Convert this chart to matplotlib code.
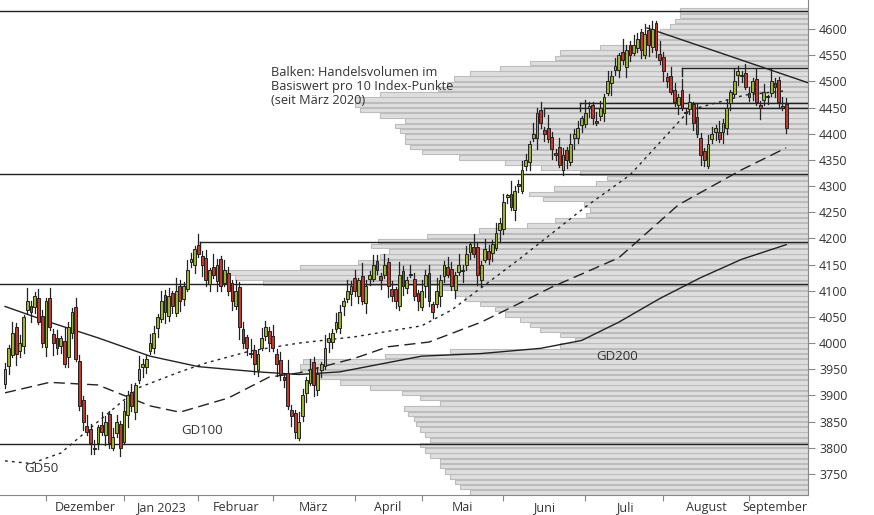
import numpy as np
import matplotlib
matplotlib.use("Agg")
import matplotlib.pyplot as plt

plt.rcParams['font.family'] = ['Open Sans', 'DejaVu Sans']

# ---- data ----
closes = [
 3950,3990,4020,3980,4000,4050,4080,4060,4090,4040,4000,
 4080,4030,4000,3990,4010,3960,4030,4060,3970,3880,3850,3830,3810,3800,3840,3830,3850,3810,3820,3850,3800,
 3870,3900,3880,3920,3950,3960,3970,4000,4020,4050,4080,4060,4090,4070,4100,4080,4110,4140,4160,4180,
 4170,4150,4120,4140,4130,4150,4110,4140,4100,4080,4100,4030,4000,3990,3980,3960,3980,4010,4030,4000,
 3990,3960,3940,3930,3880,3860,3830,3850,3900,3930,3950,3920,3940,3960,3990,4010,4020,4040,4060,4080,4100,4110,
 4100,4120,4080,4110,4130,4150,4140,4120,4150,4110,4090,4080,4130,4110,4120,4130,4090,4080,
 4100,4130,4080,4060,4100,4120,4150,4130,4110,4130,4150,4140,4170,4190,4170,4130,4150,4180,4160,4190,4210,4230,
 4270,4280,4260,4290,4300,4330,4350,4380,4400,4440,4420,4400,4390,4370,4360,4340,4360,4350,4380,4400,4410,4430,
 4440,4450,4430,4420,4450,4470,4500,4510,4530,4550,4540,4560,4550,4570,4580,4560,4590,4570,4600,4560,4540,
 4520,4500,4480,4460,4470,4450,4440,4460,4420,4400,4360,4350,4380,4400,4410,4390,4420,4450,4480,4500,4520,4510,4490,
 4470,4500,4460,4450,4480,4470,4500,4490,4460,4450,4410,
]
open0 = 3930
open_gap = [-8, 6, -12, 10, 4, -6, 14, -10, 8, -4, 12]
wick_up = [12, 6, 20, 9, 15, 4, 25, 10, 7, 18]
wick_dn = [8, 16, 5, 22, 10, 13, 6, 19, 11, 4]

month_start_idx = [11, 32, 52, 72, 94, 112, 134, 156, 177, 200]
month_labels = ["Dezember", "Jan 2023", "Februar", "März", "April", "Mai", "Juni", "Juli", "August", "September"]

gd200_x = [0,12,25,39,52,68,79,90,101,112,128,144,155,165,176,187,198,210]
gd200_y = [4070,4040,4010,3975,3955,3945,3940,3945,3960,3975,3980,3990,4005,4040,4085,4125,4160,4188]
gd100_x = [0,12,25,39,47,60,71,79,94,103,114,128,138,147,165,181,198,210]
gd100_y = [3905,3925,3920,3880,3868,3895,3935,3943,3971,3993,4002,4040,4075,4107,4163,4264,4331,4373]
gd50_x = [0,7,15,25,36,47,54,66,79,94,112,120,138,156,168,184,199,210]
gd50_y = [3775,3770,3790,3850,3915,3945,3962,3985,4000,4012,4033,4063,4159,4260,4321,4445,4474,4482]

prof_levels = list(range(3710, 4640, 10))
prof_left_px = [470,460,455,450,445,440,440,430,425,420,430,425,420,416,414,408,404,440,420,402,
 370,340,317,300,300,303,385,450,560,575,560,540,530,520,505,495,480,465,455,440,
 263,235,205,300,358,380,389,371,378,427,479,527,555,586,590,584,543,529,554,596,
 607,580,541,505,459,422,410,405,405,400,395,405,380,360,355,355,380,438,447,454,
 470,500,530,555,560,600,640,650,660,670,675,680,680]

hlines_full = [4634, 4323, 4113, 3807]
hlines_partial = [(4193, 52.4), (4449, 145), (4459, 154.6), (4525, 182)]
trend_x = [172.6, 216]
trend_y = [4602, 4497]

# ---- figure ----
PX = 3.72
fig = plt.figure(figsize=(8.74, 5.15), dpi=100)
ax = fig.add_axes([0, 20/515, 808/874, 495/515])
xmin, xmax = -5/PX, 803/PX
ax.set_xlim(xmin, xmax)
ax.set_ylim(3709.8, 4655.4)

# volume profile
vol = [(808 - p) / PX for p in prof_left_px]
ax.barh([l + 5 for l in prof_levels], vol, left=[xmax - v for v in vol], height=8.6,
        color='#dedede', edgecolor='#bcbcbc', linewidth=0.8, zorder=1)

# horizontal lines
for h in hlines_full:
    ax.plot([xmin, xmax], [h, h], color='#222222', lw=1.0, zorder=3)
for h, x0 in hlines_partial:
    ax.plot([x0, xmax], [h, h], color='#222222', lw=1.0, zorder=3)
    ax.plot([x0, x0], [h, h - 15], color='#222222', lw=1.0, zorder=3)
ax.plot(trend_x, trend_y, color='#222222', lw=1.0, zorder=3)

# moving averages
ax.plot(gd200_x, gd200_y, color='#222222', lw=1.0, zorder=4)
ax.plot(gd100_x, gd100_y, color='#222222', lw=1.0, dashes=(8, 4), zorder=4)
ax.plot(gd50_x, gd50_y, color='#222222', lw=1.0, dashes=(2, 3), zorder=4)

# candles
prev = open0
for i, c in enumerate(closes):
    o = prev + open_gap[i % len(open_gap)]
    hi = max(o, c) + wick_up[i % len(wick_up)]
    lo = min(o, c) - wick_dn[i % len(wick_dn)]
    col = '#9bb52a' if c >= o else '#c0392b'
    ax.plot([i, i], [lo, hi], color='#222222', lw=0.9, zorder=5)
    body = max(abs(c - o), 2)
    ax.bar(i, body, bottom=min(o, c), width=0.75, color=col, edgecolor='#222222', linewidth=0.7, zorder=6)
    prev = c

# labels
ax.text(5.3, 3760, "GD50", fontsize=9.5, color='#333333', va='center', zorder=7)
ax.text(47.5, 3833, "GD100", fontsize=9.5, color='#333333', va='center', zorder=7)
ax.text(159, 3975, "GD200", fontsize=9.5, color='#333333', va='center', zorder=7)
ax.text(71.5, 4530, "Balken: Handelsvolumen im\nBasiswert pro 10 Index-Punkte\n(seit März 2020)",
        fontsize=9.2, color='#333333', va='top', linespacing=1.1, zorder=7)

# axes
for s in ['top', 'left']:
    ax.spines[s].set_visible(False)
ax.spines['right'].set_color('#888888')
ax.spines['bottom'].set_color('#888888')
ax.yaxis.tick_right()
ax.set_yticks(range(3750, 4601, 50))
ax.tick_params(axis='y', length=5, colors='#888888', labelcolor='#333333', labelsize=9, pad=3)
ax.set_xticks(month_start_idx)
ax.set_xticklabels([])
ax.tick_params(axis='x', length=4, colors='#888888')
ends = month_start_idx[1:] + [214]
for s, e, lab in zip(month_start_idx, ends, month_labels):
    ax.text((s + e) / 2, -0.012, lab, transform=ax.get_xaxis_transform(), ha='center', va='top',
            fontsize=9, color='#333333')

fig.savefig("out.png", dpi=100)
